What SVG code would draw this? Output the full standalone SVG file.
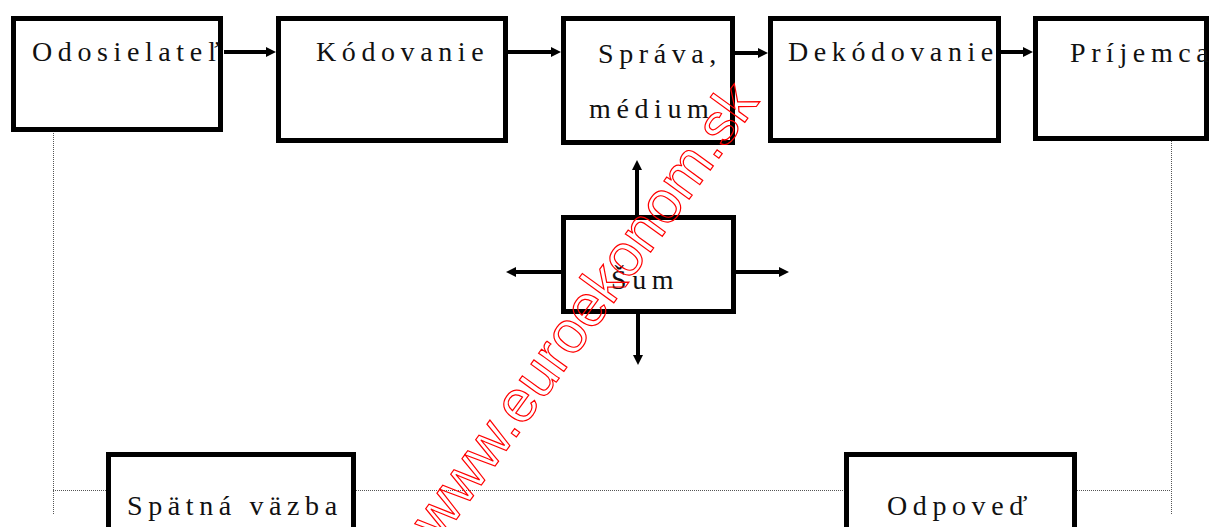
<svg xmlns="http://www.w3.org/2000/svg" width="1209" height="527" viewBox="0 0 1209 527">
<defs>
<style>
.box{fill:#fff;stroke:#000;stroke-width:5}
.lbl{font-family:"Liberation Serif","Times New Roman",serif;font-size:28px;letter-spacing:5.6px;fill:#111}
.arr{stroke:#000;stroke-width:4;fill:none;marker-end:url(#ah)}
.dot{stroke:#555;stroke-width:1;stroke-dasharray:1 1;fill:none}
.wm{font-family:"Liberation Sans",Arial,sans-serif;font-size:59px;fill:none;stroke:#ff0000;stroke-width:1.2}
</style>
<marker id="ah" viewBox="0 0 10 10" refX="4" refY="5" markerWidth="10" markerHeight="10" markerUnits="userSpaceOnUse" orient="auto">
<path d="M0,0 L10,5 L0,10 z" fill="#000"/>
</marker>
</defs>
<rect width="1209" height="527" fill="#fff"/>
<g id="connectors">
<path class="dot" d="M53.5,115 V515"/>
<path class="dot" d="M1171.5,135 V515"/>
<path class="dot" d="M53,490.5 H107 M356,490.5 H844 M1077,490.5 H1171"/>
<path class="arr" d="M224,52 H270"/>
<path class="arr" d="M508,52 H555"/>
<path class="arr" d="M735,53 H762"/>
<path class="arr" d="M1001,52 H1027"/>
<path class="arr" d="M637,215 V166"/>
<path class="arr" d="M561,272 H512"/>
<path class="arr" d="M736,272 H783"/>
<path class="arr" d="M638,314 V359"/>
</g>
<g id="odosielatel"><rect class="box" x="13.5" y="18.5" width="207" height="111"/><text class="lbl" x="32" y="61">Odosielateľ</text></g>
<g id="kodovanie"><rect class="box" x="278.5" y="18.5" width="227" height="122"/><text class="lbl" x="316" y="61">Kódovanie</text></g>
<g id="sprava"><rect class="box" x="563.5" y="18.5" width="169" height="124"/><text class="lbl" x="598" y="63">Správa,</text><text class="lbl" x="589" y="118">médium</text></g>
<g id="dekodovanie"><rect class="box" x="770.5" y="18.5" width="228" height="122"/><text class="lbl" x="788" y="61">Dekódovanie</text></g>
<g id="prijemca"><rect class="box" x="1035.5" y="18.5" width="171" height="120"/><text class="lbl" x="1070" y="62">Príjemca</text></g>
<g id="sum"><rect class="box" x="563.5" y="217.5" width="170" height="94"/><text class="lbl" x="611" y="289">Šum</text></g>
<g id="spatna-vazba"><rect class="box" x="108.5" y="454.5" width="245" height="100"/><text class="lbl" x="127" y="515">Spätná väzba</text></g>
<g id="odpoved"><rect class="box" x="846.5" y="454.5" width="228" height="100"/><text class="lbl" x="887" y="515">Odpoveď</text></g>
<text class="wm" transform="translate(440,542) rotate(-54)">www.euroekonom.sk</text>
</svg>
